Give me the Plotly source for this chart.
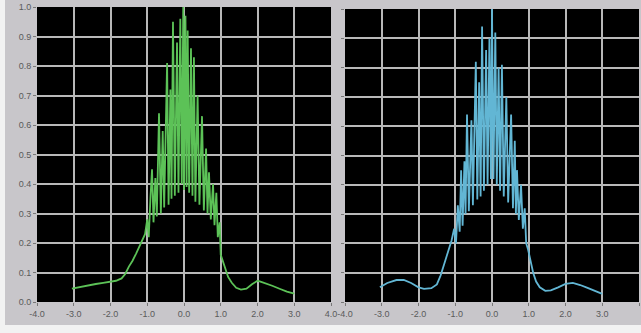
import plotly.graph_objects as go

# ---- data ----
green_x = [-3.05, -2.8, -2.6, -2.4, -2.2, -2.0, -1.85, -1.7, -1.6, -1.5, -1.4, -1.3, -1.2, -1.12, -1.06,
           -1.00, -0.96, -0.91, -0.87, -0.83, -0.78, -0.74, -0.68, -0.63, -0.58, -0.54, -0.46, -0.42,
           -0.37, -0.34, -0.30, -0.25, -0.19, -0.15, -0.10, -0.06, -0.02, 0.00, 0.04, 0.07, 0.10, 0.14,
           0.19, 0.23, 0.27, 0.31, 0.37, 0.42, 0.49, 0.54, 0.60, 0.64, 0.68, 0.73, 0.79, 0.83, 0.88,
           0.92, 0.97, 1.00, 1.05, 1.12, 1.20, 1.30, 1.42, 1.55, 1.70, 1.85, 2.00, 2.10, 2.25, 2.40,
           2.60, 2.80, 3.00]
green_y = [0.045, 0.052, 0.057, 0.061, 0.065, 0.068, 0.072, 0.080, 0.095, 0.120, 0.140, 0.165, 0.190, 0.210, 0.230,
           0.280, 0.220, 0.360, 0.450, 0.270, 0.420, 0.290, 0.640, 0.300, 0.580, 0.320, 0.810, 0.330,
           0.720, 0.350, 0.950, 0.360, 0.880, 0.370, 0.960, 0.400, 1.000, 0.380, 0.970, 0.390, 0.920, 0.370,
           0.860, 0.360, 0.830, 0.340, 0.700, 0.330, 0.630, 0.310, 0.520, 0.300, 0.440, 0.280, 0.400, 0.260, 0.370,
           0.220, 0.270, 0.160, 0.140, 0.110, 0.085, 0.065, 0.048, 0.042, 0.045, 0.060, 0.072, 0.068, 0.062, 0.055,
           0.045, 0.035, 0.028]

blue_x = [-3.05, -2.85, -2.6, -2.4, -2.2, -2.0, -1.85, -1.65, -1.5, -1.4, -1.3, -1.2, -1.1, -1.03,
          -0.98, -0.93, -0.88, -0.84, -0.80, -0.75, -0.72, -0.68, -0.63, -0.56, -0.52, -0.44, -0.40,
          -0.35, -0.31, -0.27, -0.22, -0.16, -0.12, -0.07, -0.03, 0.00, 0.04, 0.09, 0.13, 0.18, 0.22,
          0.27, 0.32, 0.39, 0.44, 0.52, 0.57, 0.62, 0.65, 0.68, 0.73, 0.79, 0.84, 0.89, 0.93, 0.98,
          1.05, 1.12, 1.20, 1.30, 1.45, 1.60, 1.80, 2.00, 2.20, 2.40, 2.60, 2.80, 3.00]
blue_y = [0.050, 0.065, 0.075, 0.075, 0.065, 0.050, 0.045, 0.047, 0.060, 0.090, 0.130, 0.170, 0.210, 0.250,
          0.200, 0.330, 0.240, 0.450, 0.260, 0.480, 0.300, 0.640, 0.310, 0.620, 0.330, 0.820, 0.350,
          0.750, 0.360, 0.940, 0.380, 0.860, 0.400, 0.900, 0.420, 1.000, 0.420, 0.920, 0.400, 0.800, 0.380,
          0.810, 0.360, 0.700, 0.340, 0.640, 0.320, 0.550, 0.300, 0.450, 0.280, 0.400, 0.250, 0.320, 0.200, 0.180,
          0.140, 0.100, 0.070, 0.050, 0.038, 0.040, 0.050, 0.062, 0.065, 0.058, 0.048, 0.038, 0.028]

x_ticks = [-4, -3, -2, -1, 0, 1, 2, 3, 4]
x_tick_labels = ["-4.0", "-3.0", "-2.0", "-1.0", "0.0", "1.0", "2.0", "3.0", "4.0"]
y_ticks = [0.0, 0.1, 0.2, 0.3, 0.4, 0.5, 0.6, 0.7, 0.8, 0.9, 1.0]
y_tick_labels = ["0.0", "0.1", "0.2", "0.3", "0.4", "0.5", "0.6", "0.7", "0.8", "0.9", "1.0"]

W, H = 641, 333
PANEL = "#c8c6ca"
GRID = "#b8b8b8"
FONT = dict(family="Liberation Sans, Arial, sans-serif", size=9, color="#5a5a5a")

fig = go.Figure()
fig.add_trace(go.Scatter(x=green_x, y=green_y, mode="lines",
                         line=dict(color="#5cc257", width=1.8), xaxis="x", yaxis="y",
                         showlegend=False, hoverinfo="skip"))
fig.add_trace(go.Scatter(x=blue_x, y=blue_y, mode="lines",
                         line=dict(color="#62b6d4", width=1.8), xaxis="x2", yaxis="y2",
                         showlegend=False, hoverinfo="skip"))

def px(v):
    return v / W

def py(v):
    return 1 - v / H

common_x = dict(range=[-4, 4], tickvals=x_ticks, ticktext=x_tick_labels, showgrid=True,
                gridcolor=GRID, gridwidth=1.5, zeroline=False, ticks="outside", ticklen=3,
                tickcolor="#777", tickfont=FONT, showline=False, fixedrange=True,
                automargin=False)
common_y = dict(range=[0, 1], tickvals=y_ticks, showgrid=True,
                gridcolor=GRID, gridwidth=1.5, zeroline=False, ticks="outside", ticklen=3,
                tickcolor="#777", tickfont=FONT, showline=False, fixedrange=True,
                automargin=False)

fig.update_layout(
    width=W, height=H,
    margin=dict(l=0, r=0, t=0, b=0),
    paper_bgcolor=PANEL,
    plot_bgcolor="#000000",
    xaxis=dict(domain=[px(37), px(331)], anchor="y", **common_x),
    yaxis=dict(domain=[py(302), py(7)], anchor="x", ticktext=y_tick_labels, **common_y),
    xaxis2=dict(domain=[px(345), px(639)], anchor="y2", **common_x),
    yaxis2=dict(domain=[py(302), py(9)], anchor="x2", ticktext=[""] * len(y_ticks), **common_y),
    shapes=[
        dict(type="rect", xref="paper", yref="paper", x0=0, x1=1, y0=0, y1=py(325),
             fillcolor="#f2f2f2", line=dict(width=0), layer="below"),
        dict(type="rect", xref="paper", yref="paper", x0=0, x1=px(5), y0=0, y1=1,
             fillcolor="#f2f2f2", line=dict(width=0), layer="below"),
    ],
)

fig.write_html("out.html", config={"displayModeBar": False},
               post_script="document.body.style.margin='0';document.body.style.overflow='hidden';")
